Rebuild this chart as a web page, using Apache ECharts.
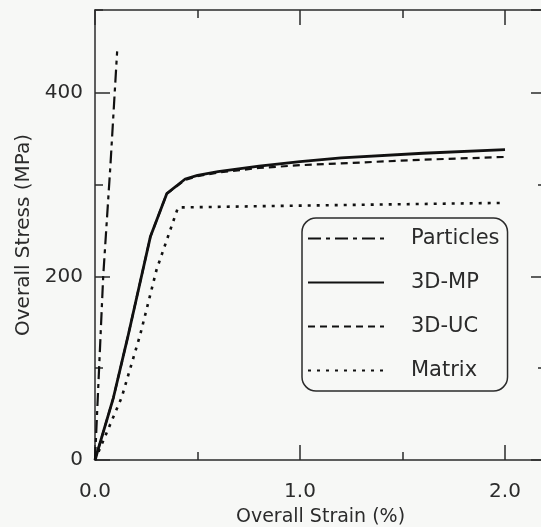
<!DOCTYPE html>
<html><head><meta charset="utf-8">
<script src="https://cdn.jsdelivr.net/npm/echarts@6/dist/echarts.min.js"></script>
<style>html,body{margin:0;padding:0;overflow:hidden;background:#f7f8f6}#c{width:546px;height:527px}</style>
</head><body><div id="c"></div>
<script>
const seriesNames = ['Particles', '3D-MP', '3D-UC', 'Matrix'];
const particles = [[0,0],[0.04,200],[0.075,320],[0.108,445]];
const mp3d = [[0,0],[0.09,68],[0.16,134],[0.27,243],[0.35,290],[0.44,306],[0.5,310],[0.6,314],[0.8,320],[1.0,325],[1.2,329],[1.6,334],[2.0,338]];
const uc3d = [[0,0],[0.09,68],[0.16,134],[0.27,243],[0.35,290],[0.44,305],[0.5,309],[0.6,313],[0.8,318],[1.0,321],[1.2,323],[1.6,327],[2.0,330]];
const matrix = [[0,0],[0.13,68],[0.22,136],[0.30,207],[0.405,275],[1.0,277],[2.0,280]];
const xLabels = {0: '0.0', 1: '1.0', 2: '2.0'};
const yLabels = {0: '0', 200: '200', 400: '400'};

const FONT = 'DejaVu Sans';
const INK = '#2b2b2b';
const axisLine = {show: true, onZero: false, lineStyle: {color: INK, width: 1.5}};
function xAx(pos, interval, len, line, extra) {
  return Object.assign({
    type: 'value', min: 0, max: 2.2, interval: interval, position: pos,
    axisLine: line ? axisLine : {show: false, onZero: false},
    axisTick: {show: true, inside: true, length: len, lineStyle: {color: INK, width: 1.5}},
    axisLabel: {show: false}, splitLine: {show: false}
  }, extra || {});
}
function yAx(pos, interval, len, line, extra) {
  return Object.assign({
    type: 'value', min: 0, max: 490, interval: interval, position: pos,
    axisLine: line ? axisLine : {show: false, onZero: false},
    axisTick: {show: true, inside: true, length: len, lineStyle: {color: INK, width: 1.5}},
    axisLabel: {show: false}, splitLine: {show: false}
  }, extra || {});
}
const chart = echarts.init(document.getElementById('c'), null, {renderer: 'canvas'});
const lineBase = {type: 'line', symbol: 'none', symbolSize: 0, showSymbol: false,
  xAxisIndex: 0, yAxisIndex: 0, animation: false, itemStyle: {color: '#111', opacity: 0}};
chart.setOption({
  backgroundColor: '#f7f8f6',
  animation: false,
  grid: {left: 95, right: 0, top: 10, bottom: 67, containLabel: false, outerBoundsMode: 'none'},
  xAxis: [
    xAx('bottom', 1, 15, true, {
      name: 'Overall Strain (%)', nameLocation: 'middle', nameGap: 48,
      nameTextStyle: {fontFamily: FONT, fontSize: 19, color: INK},
      axisLabel: {show: true, margin: 22, fontFamily: FONT, fontSize: 20, color: INK,
        showMaxLabel: false, formatter: v => xLabels[v] || ''}
    }),
    xAx('bottom', 0.5, 8, false),
    xAx('top', 1, 15, true),
    xAx('top', 0.5, 8, false)
  ],
  yAxis: [
    yAx('left', 200, 15, true, {
      name: 'Overall Stress (MPa)', nameLocation: 'middle', nameGap: 54,
      nameTextStyle: {fontFamily: FONT, fontSize: 20, color: INK},
      axisLabel: {show: true, margin: 12, fontFamily: FONT, fontSize: 20, color: INK,
        showMaxLabel: false, formatter: v => yLabels[v] || ''}
    }),
    yAx('left', 100, 8, false),
    yAx('right', 200, 15, true),
    yAx('right', 100, 8, false)
  ],
  legend: {
    data: seriesNames, orient: 'vertical', left: 302, top: 218,
    selectedMode: false, itemWidth: 76, itemHeight: 22, itemGap: 23,
    padding: [10, 8, 10, 5],
    borderColor: INK, borderWidth: 1.5, borderRadius: 14,
    itemStyle: {opacity: 0},
    textStyle: {fontFamily: FONT, fontSize: 21, color: INK, padding: [0, 0, 0, 22]}
  },
  series: [
    Object.assign({}, lineBase, {name: seriesNames[0], data: particles,
      lineStyle: {color: '#111', width: 2.2, type: [13, 5, 4, 5]}}),
    Object.assign({}, lineBase, {name: seriesNames[1], data: mp3d,
      lineStyle: {color: '#111', width: 2.8, type: 'solid'}}),
    Object.assign({}, lineBase, {name: seriesNames[2], data: uc3d,
      lineStyle: {color: '#111', width: 2.2, type: [7, 5]}}),
    Object.assign({}, lineBase, {name: seriesNames[3], data: matrix,
      lineStyle: {color: '#111', width: 2.6, type: [3, 6]}})
  ]
});
</script>
</body></html>
